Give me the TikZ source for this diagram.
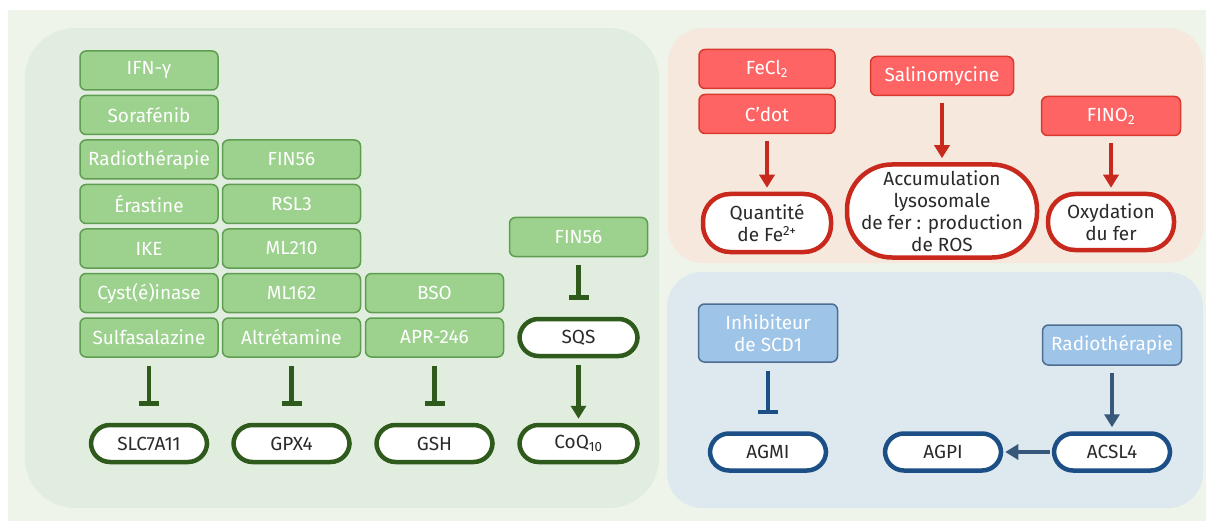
\documentclass[tikz,border=0pt]{standalone}
\usepackage{fontspec}
\setmainfont{Fira Sans}
\usetikzlibrary{arrows.meta,positioning}

\definecolor{outerbg}{HTML}{EEF4EA}
\definecolor{leftbg}{HTML}{E1EEDF}
\definecolor{redbg}{HTML}{F7E8DE}
\definecolor{bluebg}{HTML}{DDE9EF}
\definecolor{grnfill}{HTML}{9CD18E}
\definecolor{grnline}{HTML}{5F9E50}
\definecolor{grndark}{HTML}{2E5A1C}
\definecolor{redfill}{HTML}{FF6464}
\definecolor{redline}{HTML}{D83A2E}
\definecolor{reddark}{HTML}{C9281C}
\definecolor{blufill}{HTML}{9EC4E8}
\definecolor{bluline}{HTML}{4C6D8F}
\definecolor{bludark}{HTML}{1D4F87}
\definecolor{bluarrow}{HTML}{37587A}
\definecolor{txtdark}{HTML}{2A2A2A}

\begin{document}
\begin{tikzpicture}[x=1pt,y=-1pt,
    every node/.style={font=\fontsize{19}{22}\selectfont, inner sep=0pt, align=center},
    greenbox/.style={draw=grnline, fill=grnfill, line width=1.5pt, rounded corners=6pt,
      text=white, minimum width=138pt, minimum height=39pt},
    redbox/.style={draw=redline, fill=redfill, line width=1.5pt, rounded corners=6pt,
      text=white, minimum width=136pt, minimum height=39pt},
    bluebox/.style={draw=bluline, fill=blufill, line width=1.5pt, rounded corners=6pt,
      text=white, minimum width=139pt, minimum height=40pt},
    target/.style={draw=#1, fill=white, line width=4.5pt, rounded corners=19pt,
      text=txtdark, minimum width=116pt, minimum height=37pt},
    inhib/.style={draw=#1, line width=4.5pt, -{Bar[width=20pt]}, shorten <=8pt, shorten >=17pt},
    activ/.style={draw=#1, line width=4.5pt, -{Triangle[width=15pt,length=13pt]},
      shorten <=7pt, shorten >=4pt}]
  \useasboundingbox (0,0) rectangle (1206,521);

  % Panels
  \fill[white] (0,0) rectangle (1206,521);
  \fill[outerbg] (8,10) rectangle (1206,521);
  \fill[leftbg, rounded corners=50pt] (25,28) rectangle (659,508);
  \fill[redbg, rounded corners=35pt] (668,28) rectangle (1203,263);
  \fill[bluebg, rounded corners=35pt] (667,272) rectangle (1203,508);

  % Inhibitors, left panel
  \node[greenbox] (ifn) at (149,70.5) {IFN-γ};
  \node[greenbox] (sora) at (149,115) {Sorafénib};
  \node[greenbox] (radio) at (149,159.5) {Radiothérapie};
  \node[greenbox] (erast) at (149,204) {Érastine};
  \node[greenbox] (ike) at (149,248.5) {IKE};
  \node[greenbox] (cyst) at (149,293) {Cyst(é)inase};
  \node[greenbox] (sulfa) at (149,337.5) {Sulfasalazine};

  \node[greenbox] (fin) at (291.5,159.5) {FIN56};
  \node[greenbox] (rsl) at (291.5,204) {RSL3};
  \node[greenbox] (mlb) at (291.5,248.5) {ML210};
  \node[greenbox] (mla) at (291.5,293) {ML162};
  \node[greenbox] (altr) at (291.5,337.5) {Altrétamine};

  \node[greenbox] (bso) at (434.5,293) {BSO};
  \node[greenbox] (apr) at (434.5,337.5) {APR-246};

  \node[greenbox] (finb) at (578.5,237) {FIN56};

  % Targets, left panel
  \node[target=grndark] (slc) at (149,443.5) {SLC7A11};
  \node[target=grndark] (gpx) at (291.5,443.5) {GPX4};
  \node[target=grndark] (gsh) at (434.5,443.5) {GSH};
  \node[target=grndark, minimum width=118pt] (sqs) at (578.5,337.5) {SQS};
  \node[target=grndark, minimum width=118pt] (coq) at (578.5,443.5) {CoQ\textsubscript{10}};

  \draw[inhib=grndark] (sulfa) -- (slc);
  \draw[inhib=grndark] (altr) -- (gpx);
  \draw[inhib=grndark] (apr) -- (gsh);
  \draw[inhib=grndark] (finb) -- (sqs);
  \draw[activ=grndark] (sqs) -- (coq);

  % Iron, top right panel
  \node[redbox] (fecl) at (767,69) {FeCl\textsubscript{2}};
  \node[redbox] (cdot) at (767,114) {C’dot};
  \node[redbox, minimum width=143pt] (salino) at (942,76) {Salinomycine};
  \node[redbox, minimum width=139pt] (fino) at (1111,116) {FINO\textsubscript{2}};

  \node[target=reddark, minimum width=128pt, minimum height=58pt, rounded corners=27pt]
    (quant) at (767,223) {Quantité\\de Fe\textsuperscript{2+}};
  \node[target=reddark, minimum width=190pt, minimum height=93pt, rounded corners=45pt]
    (accu) at (942,211) {Accumulation\\lysosomale\\de fer : production\\de ROS};
  \node[target=reddark, minimum width=126pt, minimum height=56pt, rounded corners=27pt]
    (oxy) at (1111,222) {Oxydation\\du fer};

  \draw[activ=reddark] (cdot) -- (quant);
  \draw[activ=reddark] (salino) -- (accu);
  \draw[activ=reddark] (fino) -- (oxy);

  % Lipids, bottom right panel
  \node[bluebox, minimum height=58pt] (scd) at (768,333) {Inhibiteur\\de SCD1};
  \node[bluebox] (radiob) at (1112,345) {Radiothérapie};

  \node[target=bludark] (agmi) at (768,452) {AGMI};
  \node[target=bludark] (agpi) at (943,452) {AGPI};
  \node[target=bludark] (acsl) at (1112,452) {ACSL4};

  \draw[inhib=bludark] (scd) -- (agmi);
  \draw[activ=bluarrow] (radiob) -- (acsl);
  \draw[activ=bluarrow, shorten <=2pt, shorten >=2pt] (acsl) -- (agpi);
\end{tikzpicture}
\end{document}
